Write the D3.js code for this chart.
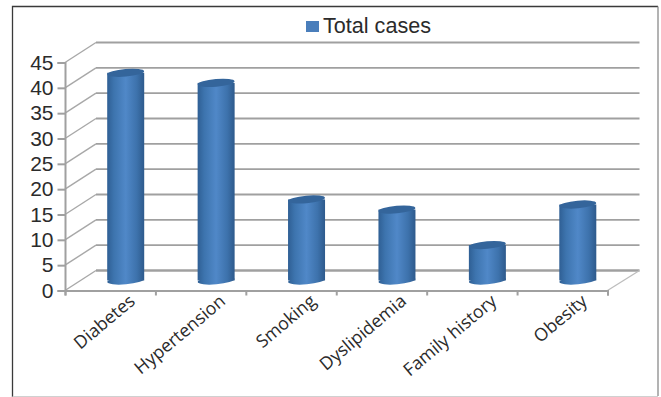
<!DOCTYPE html>
<html>
<head>
<meta charset="utf-8">
<script src="https://cdn.jsdelivr.net/npm/d3@7"></script>
<style>
  html, body { margin: 0; padding: 0; background: #fff; }
  svg { display: block; }
</style>
</head>
<body>
<div id="chart"></div>
<script>
const categories = ["Diabetes", "Hypertension", "Smoking", "Dyslipidemia", "Family history", "Obesity"];
const totalCases = [41, 39, 16, 14, 7, 15];
const yTicks = [0, 5, 10, 15, 20, 25, 30, 35, 40, 45];
const legendLabel = "Total cases";

const width = 661;
const height = 397;
const plot = { left: 65, right: 607.5, top: 62.5, bottom: 290.5 };
const depth = { x: 31, y: -20 };
const grey = "#a0a0a0";

const svg = d3.select("#chart").append("svg").attr("width", width).attr("height", height);

// outer frame, top and left are darker than the other two
svg.append("rect").attr("width", width).attr("height", height).attr("fill", "#fff");
svg.append("path").attr("d", "M12.5,397V6.5H658").attr("fill", "none").attr("stroke", "#3a3a3a").attr("stroke-width", 1.3);
svg.append("path").attr("d", "M658,6.5V396").attr("fill", "none").attr("stroke", "#8a8a8a").attr("stroke-width", 1.3);
svg.append("path").attr("d", "M12.5,396.5H658").attr("fill", "none").attr("stroke", "#d0d0d0").attr("stroke-width", 1);

const x = d3.scaleBand().domain(categories).range([plot.left, plot.right]);
const xEdges = d3.scaleLinear().domain([0, categories.length]).range([plot.left, plot.right]);
const y = d3.scaleLinear().domain([0, 45]).range([plot.bottom, plot.top]);

const defs = svg.append("defs");
const grad = defs.append("linearGradient").attr("id", "cyl");
grad.append("stop").attr("offset", "0%").attr("stop-color", "#2f5f94");
grad.append("stop").attr("offset", "18%").attr("stop-color", "#3d74ae");
grad.append("stop").attr("offset", "50%").attr("stop-color", "#5088c8");
grad.append("stop").attr("offset", "80%").attr("stop-color", "#3d72ac");
grad.append("stop").attr("offset", "100%").attr("stop-color", "#2e5a8c");

// back wall gridlines
svg.append("g").selectAll("line").data(yTicks).join("line")
  .attr("x1", plot.left + depth.x)
  .attr("x2", plot.right + depth.x + 1)
  .attr("y1", d => y(d) + depth.y)
  .attr("y2", d => y(d) + depth.y)
  .attr("stroke", grey)
  .attr("stroke-width", d => d === 0 ? 2.6 : 1.8);

// side wall diagonals
svg.append("g").selectAll("line").data(yTicks).join("line")
  .attr("x1", plot.left)
  .attr("x2", plot.left + depth.x)
  .attr("y1", d => y(d))
  .attr("y2", d => y(d) + depth.y)
  .attr("stroke", "#a8a8a8")
  .attr("stroke-width", 1.4);

// right edge of the floor
svg.append("line")
  .attr("x1", plot.right).attr("y1", plot.bottom)
  .attr("x2", plot.right + depth.x + 1).attr("y2", plot.bottom + depth.y)
  .attr("stroke", "#bdbdbd").attr("stroke-width", 1.3);

// y axis
const yAxis = d3.axisLeft(y).tickValues(yTicks).tickSize(7.5).tickPadding(4);
const yG = svg.append("g").attr("transform", `translate(${plot.left},0)`).call(yAxis);
yG.selectAll("path, line").attr("stroke", grey).attr("stroke-width", 2);
yG.selectAll("text")
  .attr("font-family", "'Liberation Sans', Arial, sans-serif")
  .attr("font-size", 21)
  .attr("fill", "#2b2b2b");

// x axis, ticks sit on the band edges
const xAxis = d3.axisBottom(xEdges).tickValues(d3.range(categories.length + 1)).tickSize(5).tickFormat("");
const xG = svg.append("g").attr("transform", `translate(0,${plot.bottom})`).call(xAxis);
xG.selectAll("path, line").attr("stroke", grey).attr("stroke-width", 2);

// cylinders
const barW = 37;
const barCx = d => x(d) + x.bandwidth() / 2 + depth.x / 2;
const baseY = plot.bottom + depth.y / 2;
const topY = i => y(totalCases[i]) + depth.y / 2;
const tilt = -5;

const bars = svg.append("g").selectAll("g").data(categories).join("g");
bars.append("ellipse")
  .attr("cx", d => barCx(d)).attr("cy", baseY)
  .attr("rx", barW / 2).attr("ry", 3.8)
  .attr("transform", d => `rotate(${tilt},${barCx(d)},${baseY})`)
  .attr("fill", "url(#cyl)");
bars.append("rect")
  .attr("x", d => barCx(d) - barW / 2)
  .attr("width", barW)
  .attr("y", (d, i) => topY(i))
  .attr("height", (d, i) => baseY - topY(i))
  .attr("fill", "url(#cyl)");
bars.append("ellipse")
  .attr("cx", d => barCx(d)).attr("cy", (d, i) => topY(i))
  .attr("rx", barW / 2).attr("ry", 3.8)
  .attr("transform", (d, i) => `rotate(${tilt},${barCx(d)},${topY(i)})`)
  .attr("fill", "#34659b");

// category labels
svg.append("g").selectAll("text").data(categories).join("text")
  .attr("transform", d => `translate(${x(d) + x.bandwidth() / 2 + 26},303) rotate(-40)`)
  .attr("text-anchor", "end")
  .attr("font-family", "'Open Sans', sans-serif")
  .attr("font-size", 17.8)
  .attr("fill", "#2b2b2b")
  .text(d => d);

// legend
svg.append("rect").attr("x", 306).attr("y", 21).attr("width", 13).attr("height", 11).attr("fill", "#4a7ebb");
svg.append("text")
  .attr("x", 323).attr("y", 32.5)
  .attr("font-family", "'Liberation Sans', Arial, sans-serif")
  .attr("font-size", 21.6)
  .attr("fill", "#2b2b2b")
  .text(legendLabel);
</script>
</body>
</html>
